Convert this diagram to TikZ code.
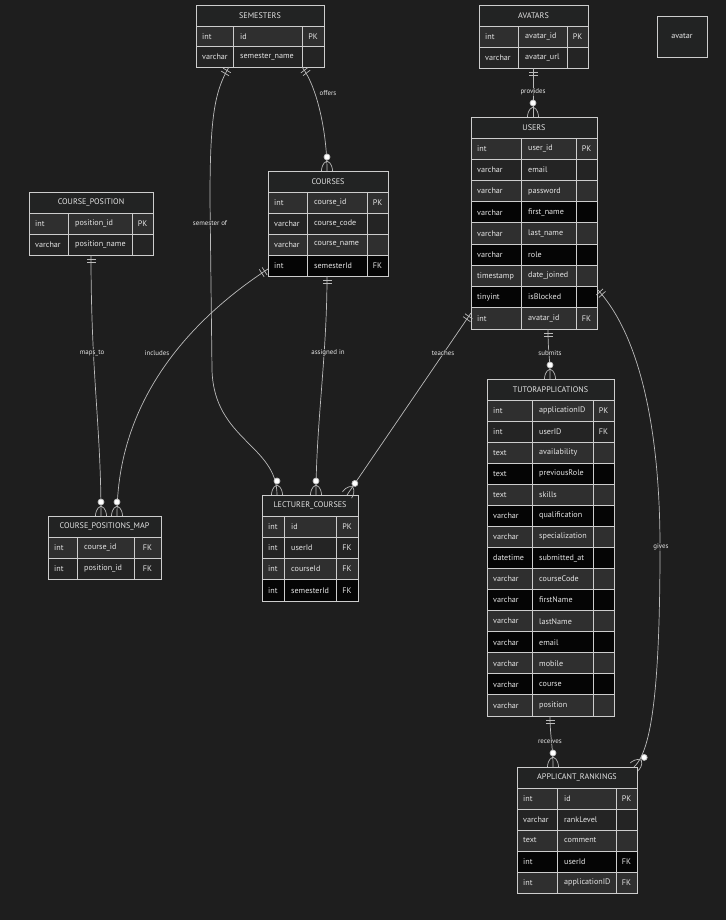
\documentclass[tikz,border=0pt]{standalone}
\usepackage{fontspec}
\setmainfont{PT Sans}
\usetikzlibrary{decorations.markings,calc}

\definecolor{bg}{HTML}{1E1E1E}
\definecolor{hdr}{HTML}{222323}
\definecolor{rowg}{HTML}{2F2F2F}
\definecolor{rowd}{HTML}{242424}
\definecolor{rowb}{HTML}{050505}
\definecolor{edge}{HTML}{CDCDCD}
\definecolor{ink}{HTML}{E6E6E6}
\definecolor{wire}{HTML}{BBBBBB}

\tikzset{
  tframe/.style={draw=edge, line width=0.9pt, fill=hdr, rectangle, inner sep=0pt, outer sep=0pt},
  cellbox/.style={draw=edge, line width=0.9pt},
  celltext/.style={text=ink, font=\fontsize{8.1}{9}\selectfont, inner sep=0pt},
  titletext/.style={text=ink, font=\fontsize{8.1}{9}\selectfont, inner sep=0pt},
  conn/.style={draw=wire, line width=0.7pt},
  lbl/.style={text=ink, font=\fontsize{6.9}{8}\selectfont, fill=bg, fill opacity=0.6, text opacity=1, inner sep=1pt},
  one at start/.style={postaction={decorate, decoration={markings,
      mark=at position 0 with {\draw[conn] (4,-4.5) -- (4,4.5) (7.5,-4.5) -- (7.5,4.5);}}}},
  many at end/.style={postaction={decorate, decoration={markings,
      mark=at position 1 with {
        \draw[conn] (-10,0) .. controls (-8,5) and (-2,5.5) .. (0,5.5)
                    (-10,0) .. controls (-8,-5) and (-2,-5.5) .. (0,-5.5);
        \draw[conn, fill=white] (-14,0) circle (3pt);}}}},
}

\newcounter{errows}
% #1 name, #2 left, #3 top, #4 right, #5 bottom, #6 first column end,
% #7 second column end, #8 title, #9 rows type/name/key/shade
\newcommand\ertable[9]{%
  \setcounter{errows}{0}%
  \foreach \ty/\nm/\ky/\sh in {#9} {\stepcounter{errows}}%
  \pgfmathsetmacro\errh{(#5-#3-21)/\number\value{errows}}%
  \node[tframe, anchor=north west, minimum width={(#4-#2)*1pt}, minimum height={(#5-#3)*1pt}] (#1) at (#2,#3) {};
  \node[titletext] (#1-title) at ({(#2+#4)/2},{#3+10.5}) {#8};
  \foreach \ty/\nm/\ky/\sh [count=\i from 0] in {#9} {
    \pgfmathsetmacro\ya{#3+21+\i*\errh}
    \pgfmathsetmacro\yb{\ya+\errh}
    \pgfmathsetmacro\ym{\ya+\errh/2}
    \fill[row\sh] (#2,\ya) rectangle (#4,\yb);
    \draw[cellbox] (#2,\ya) rectangle (#6,\yb);
    \draw[cellbox] (#6,\ya) rectangle (#7,\yb);
    \draw[cellbox] (#7,\ya) rectangle (#4,\yb);
    \node[celltext, anchor=west] at ({#2+6},\ym) {\ty};
    \node[celltext, anchor=west] at ({#6+7},\ym) {\nm};
    \node[celltext] at ({(#7+#4)/2},\ym) {\ky};
  }%
}

\begin{document}
\begin{tikzpicture}[x=1pt, y=-1pt]
  \useasboundingbox (0,0) rectangle (726,920);
  \fill[bg] (0,0) rectangle (726,920);

  % entity tables
  \ertable{sem}{196}{5}{324}{67}{233}{302}{SEMESTERS}
    {int/id/PK/g, varchar/semester\_name//d}
  \ertable{av}{479}{5}{588}{68}{518}{567}{AVATARS}
    {int/avatar\_id/PK/g, varchar/avatar\_url//d}
  \ertable{crs}{268}{171}{388}{276}{307}{367}{COURSES}
    {int/course\_id/PK/g, varchar/course\_code//d, varchar/course\_name//g, int/semesterId/FK/b}
  \ertable{cpos}{29}{192}{153}{255}{68}{132}{COURSE\_POSITION}
    {int/position\_id/PK/g, varchar/position\_name//d}
  \ertable{usr}{471}{117}{597}{329}{521}{576}{USERS}
    {int/user\_id/PK/g, varchar/email//d, varchar/password//g, varchar/first\_name//b,
     varchar/last\_name//g, varchar/role//b, timestamp/date\_joined//g, tinyint/isBlocked//b,
     int/avatar\_id/FK/g}
  \ertable{tut}{487}{379}{614}{716}{532}{593}{TUTORAPPLICATIONS}
    {int/applicationID/PK/g, int/userID/FK/d, text/availability//g, text/previousRole//b,
     text/skills//g, varchar/qualification//b, varchar/specialization//g,
     datetime/submitted\_at//b, varchar/courseCode//g, varchar/firstName//b,
     varchar/lastName//g, varchar/email//b, varchar/mobile//g, varchar/course//b,
     varchar/position//g}
  \ertable{cpm}{48}{516}{161}{579}{77}{134}{COURSE\_POSITIONS\_MAP}
    {int/course\_id/FK/g, int/position\_id/FK/d}
  \ertable{lec}{262}{495}{358}{601}{284}{336}{LECTURER\_COURSES}
    {int/id/PK/g, int/userId/FK/d, int/courseId/FK/g, int/semesterId/FK/b}
  \ertable{rank}{517}{767}{637}{893}{557}{616}{APPLICANT\_RANKINGS}
    {int/id/PK/g, varchar/rankLevel//d, text/comment//g, int/userId/FK/b, int/applicationID/FK/g}

  % lone entity
  \node[tframe, anchor=north west, minimum width=50pt, minimum height=41pt] (avatar) at (657,16) {};
  \node[titletext] at (avatar.center) {avatar};

  % relationships
  \draw[conn, one at start, many at end] ([xshift=106pt]sem.south west)
    .. controls +(16,21) and +(0,-36) .. ([xshift=59pt]crs.north west);
  \draw[conn, one at start, many at end] ([xshift=33pt]sem.south west)
    .. controls +(-15,25) and (210,120) .. (210,200) -- (212,370)
    .. controls (214,440) and (277,445) .. ([xshift=15pt]lec.north west);
  \draw[conn, one at start, many at end] ([xshift=59pt]crs.south west)
    .. controls +(0,80) and +(0,-70) .. ([xshift=54pt]lec.north west);
  \draw[conn, one at start, many at end] ([yshift=-196pt]usr.north west)
    -- ([xshift=85pt]lec.north west);
  \draw[conn, one at start, many at end] ([yshift=-98pt]crs.north west)
    .. controls (190,320) and (117,400) .. ([xshift=69pt]cpm.north west);
  \draw[conn, one at start, many at end] ([xshift=62pt]cpos.south west)
    .. controls +(0,120) and +(0,-90) .. ([xshift=53pt]cpm.north west);
  \draw[conn, one at start, many at end] ([xshift=54pt]av.south west)
    -- ([xshift=62pt]usr.north west);
  \draw[conn, one at start, many at end] ([xshift=77pt]usr.south west)
    .. controls +(0,25) and +(0,-25) .. ([xshift=63pt]tut.north west);
  \draw[conn, one at start, many at end] ([yshift=-172pt]usr.north east)
    .. controls (640,335) and (660,430) .. (660,547)
    .. controls (660,700) and (650,752) .. ([xshift=-3pt]rank.north east);
  \draw[conn, one at start, many at end] ([xshift=63pt]tut.south west)
    .. controls +(0,20) and +(0,-20) .. ([xshift=36pt]rank.north west);

  % relationship labels
  \node[lbl] (l-offers) at (328,93) {offers};
  \node[lbl] (l-semof) at (210,223) {semester of};
  \node[lbl] (l-assigned) at (328,353) {assigned in};
  \node[lbl] (l-teaches) at (443,353) {teaches};
  \node[lbl] (l-includes) at (157,353) {includes};
  \node[lbl] (l-maps) at (92,353) {maps\_to};
  \node[lbl] (l-provides) at (533,92) {provides};
  \node[lbl] (l-submits) at (550,353) {submits};
  \node[lbl] (l-gives) at (661,547) {gives};
  \node[lbl] (l-receives) at (550,741) {receives};
\end{tikzpicture}
\end{document}
